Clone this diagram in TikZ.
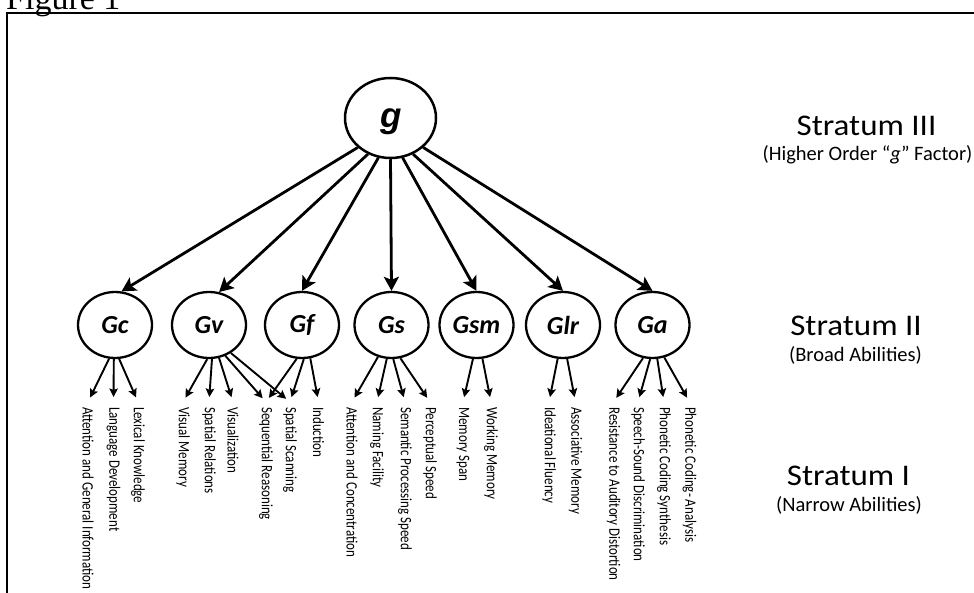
\documentclass[tikz,border=0pt]{standalone}
\usepackage{fontspec}
\setmainfont{Carlito}
\newfontfamily\figfont{Liberation Serif}
\newfontfamily\gfont{Liberation Sans}
\usetikzlibrary{shapes.geometric,arrows.meta}
\newcommand{\tallt}[1]{\scalebox{1}[1.22]{#1}}
\begin{document}
\begin{tikzpicture}[x=1pt,y=-1pt,
 frame/.style={line width=2.2pt},
 gell/.style={ellipse,draw,line width=2.5pt,minimum width=91pt,minimum height=80pt,inner sep=0pt},
 bell/.style={ellipse,draw,line width=2.3pt,minimum width=74pt,minimum height=66pt,inner sep=0pt,font=\fontsize{26}{28}\selectfont\bfseries\itshape},
 bigarr/.style={line width=2.8pt,-{Stealth[length=14pt,width=15pt,inset=3pt]}},
 smallarr/.style={line width=1.9pt,-{Stealth[length=8.5pt,width=8.5pt,inset=1.5pt]},shorten >=5pt},
 narrow/.style={rotate=-90,anchor=west,inner xsep=5pt,inner ysep=0pt,font=\fontsize{13}{15}\selectfont},
 strat/.style={anchor=base,inner sep=0pt,font=\fontsize{30}{34}\selectfont},
 subt/.style={anchor=base,inner sep=0pt,font=\fontsize{20.5}{24}\selectfont}]
\useasboundingbox (0,0) rectangle (974,593);
\fill[white] (0,0) rectangle (974,593);
% frame
\draw[frame] (7,593) -- (7,13) -- (974,13);
\node[anchor=base west,inner sep=0pt,font=\figfont\fontsize{34}{36}\selectfont] (fig) at (6,10) {Figure 1};
% g
\node[gell] (g) at (390.5,118) {};
\node[anchor=base,inner sep=0pt,font=\gfont\fontsize{35}{36}\selectfont\bfseries\itshape] (gtxt) at (391,128) {g};
% broad abilities
\node[bell] (Gc) at (115,325) {Gc};
\node[bell] (Gv) at (209,325) {Gv};
\node[bell] (Gf) at (302,325) {Gf};
\node[bell] (Gs) at (391.5,325) {Gs};
\node[bell] (Gsm) at (476.5,325) {Gsm};
\node[bell] (Glr) at (563,325) {Glr};
\node[bell] (Ga) at (652.5,325) {Ga};
\draw[bigarr] (g.222) -- (Gc.79);
\draw[bigarr] (g.238) -- (Gv.73);
\draw[bigarr] (g.253) -- (Gf.90);
\draw[bigarr] (g.270) -- (Gs.90);
\draw[bigarr] (g.287) -- (Gsm.90);
\draw[bigarr] (g.302) -- (Glr.90);
\draw[bigarr] (g.318) -- (Ga.90);
% narrow abilities
\node[narrow] (n1) at (88,402) {\tallt{Attention and General Information}};
\node[narrow] (n2) at (113.5,402) {\tallt{Language Development}};
\node[narrow] (n3) at (138,402) {\tallt{Lexical Knowledge}};
\node[narrow] (n4) at (183,402) {\tallt{Visual Memory}};
\node[narrow] (n5) at (209,402) {\tallt{Spatial Relations}};
\node[narrow] (n6) at (233,402) {\tallt{Visualization}};
\node[narrow] (n7) at (266,402) {\tallt{Sequential Reasoning}};
\node[narrow] (n8) at (290,402) {\tallt{Spatial Scanning}};
\node[narrow] (n9) at (318.5,402) {\tallt{Induction}};
\node[narrow] (n10) at (352,402) {\tallt{Attention and Concentration}};
\node[narrow] (n11) at (377,402) {\tallt{Naming Facility}};
\node[narrow] (n12) at (405,402) {\tallt{Semantic Processing Speed}};
\node[narrow] (n13) at (430,402) {\tallt{Perceptual Speed}};
\node[narrow] (n14) at (463,402) {\tallt{Memory Span}};
\node[narrow] (n15) at (491,402) {\tallt{Working Memory}};
\node[narrow] (n16) at (549,402) {\tallt{Ideational Fluency}};
\node[narrow] (n17) at (575.5,402) {\tallt{Associative Memory}};
\node[narrow] (n18) at (613.5,402) {\tallt{Resistance to Auditory Distortion}};
\node[narrow] (n19) at (638,402) {\tallt{Speech-Sound Discrimination}};
\node[narrow] (n20) at (664,402) {\tallt{Phonetic Coding Synthesis}};
\node[narrow] (n21) at (689.5,402) {\tallt{Phonetic Coding- Analysis}};
\draw[smallarr] (Gc.260) -- (n1.west);
\draw[smallarr] (Gc.268) -- (n2.west);
\draw[smallarr] (Gc.277) -- (n3.west);
\draw[smallarr] (Gv.267) -- (n4.west);
\draw[smallarr] (Gv.275) -- (n5.west);
\draw[smallarr] (Gv.287) -- (n6.west);
\draw[smallarr] (Gv.298) -- (n7.west);
\draw[smallarr] (Gv.308) -- (n8.west);
\draw[smallarr] (Gf.261) -- (n7.west);
\draw[smallarr] (Gf.273) -- (n8.west);
\draw[smallarr] (Gf.284) -- (n9.west);
\draw[smallarr] (Gs.247) -- (n10.west);
\draw[smallarr] (Gs.262) -- (n11.west);
\draw[smallarr] (Gs.273) -- (n12.west);
\draw[smallarr] (Gs.285) -- (n13.west);
\draw[smallarr] (Gsm.264) -- (n14.west);
\draw[smallarr] (Gsm.280) -- (n15.west);
\draw[smallarr] (Glr.261) -- (n16.west);
\draw[smallarr] (Glr.277) -- (n17.west);
\draw[smallarr] (Ga.254) -- (n18.west);
\draw[smallarr] (Ga.266) -- (n19.west);
\draw[smallarr] (Ga.278) -- (n20.west);
\draw[smallarr] (Ga.290) -- (n21.west);
% strata
\node[strat] (s3) at (866.5,136) {\scalebox{1.1}[1]{Stratum III}};
\node[subt] (s3b) at (867.5,161) {(Higher Order “\textit{g}” Factor)};
\node[strat] (s2) at (856,336) {\scalebox{1.1}[1]{Stratum II}};
\node[subt] (s2b) at (855.5,361.5) {(Broad Abilities)};
\node[strat] (s1) at (848.5,485) {\scalebox{1.1}[1]{Stratum I}};
\node[subt] (s1b) at (849,511.5) {(Narrow Abilities)};
\end{tikzpicture}
\end{document}
